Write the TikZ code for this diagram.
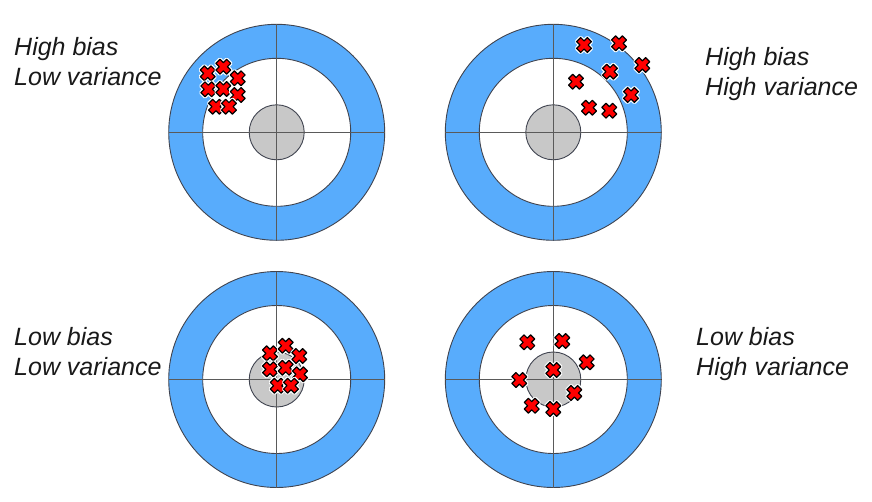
\documentclass[tikz,border=0pt]{standalone}
\usepackage{fontspec}
\setmainfont{Liberation Sans}
\usepackage{xcolor}

\definecolor{ringblue}{RGB}{88,172,252}
\definecolor{bullgray}{RGB}{200,200,200}
\definecolor{edgegray}{RGB}{64,68,80}
\definecolor{linegray}{RGB}{90,90,90}
\definecolor{hitred}{RGB}{255,0,0}

\tikzset{
    caption/.style={anchor=base west, inner sep=0pt, text=black!90,
        font=\fontsize{25}{30}\selectfont\itshape},
    ringedge/.style={draw=edgegray, line width=0.9pt},
    crosshair/.style={draw=linegray, line width=1.1pt},
    hitmark/.style={fill=hitred, draw=black, line width=1.2pt, line join=round,
        preaction={draw=white, line width=3.6pt, line join=round}}
}

% one red cross centred at #1
\newcommand{\hitat}[1]{%
    \draw[hitmark, shift={#1}, rotate=45]
        (-2.9,7.6) -- (2.9,7.6) -- (2.9,2.9) -- (7.6,2.9) -- (7.6,-2.9) -- (2.9,-2.9)
        -- (2.9,-7.6) -- (-2.9,-7.6) -- (-2.9,-2.9) -- (-7.6,-2.9) -- (-7.6,2.9)
        -- (-2.9,2.9) -- cycle;}

\begin{document}
\begin{tikzpicture}[x=1pt, y=-1pt]
    \useasboundingbox (0,0) rectangle (872,501);

    % Targets
    \foreach \cx/\cy in {276.7/132.3, 553.3/132.3, 276.7/379.5, 553.3/379.5} {
        \filldraw[fill=ringblue, ringedge] (\cx,\cy) circle (108pt);
        \filldraw[fill=white, ringedge] (\cx,\cy) circle (74pt);
        \filldraw[fill=bullgray, ringedge] (\cx,\cy) circle (27.5pt);
        \draw[crosshair] ({\cx-108},\cy) -- ({\cx+108},\cy);
        \draw[crosshair] (\cx,{\cy-108}) -- (\cx,{\cy+108});
    }

    % High bias, low variance
    \foreach \p in {(207.7,73.3), (223.3,66.7), (237.7,78.3), (208.3,89.3),
                    (223.3,89), (237.7,95), (216,106.7), (229,106.7)} {
        \hitat{\p}
    }

    % High bias, high variance
    \foreach \p in {(584,45), (619,43.3), (642.3,65), (610,71.7),
                    (576,81.7), (631,95), (589,107.7), (609.3,110.7)} {
        \hitat{\p}
    }

    % Low bias, low variance
    \foreach \p in {(270,353.3), (285.7,345.7), (299.3,356), (270,369.3),
                    (285.7,367.7), (300,374.3), (277.7,385.7), (291,385.7)} {
        \hitat{\p}
    }

    % Low bias, high variance
    \foreach \p in {(527.3,342.3), (562.3,341), (586.7,362.3), (553.3,370),
                    (519.3,380), (574.3,393), (531.7,405.7), (553.3,409)} {
        \hitat{\p}
    }

    % Captions
    \node[caption] (tlbias) at (14,55) {High bias};
    \node[caption] (tlvar) at (14,85) {Low variance};
    \node[caption] (trbias) at (705,65) {High bias};
    \node[caption] (trvar) at (705,95) {High variance};
    \node[caption] (blbias) at (14,345) {Low bias};
    \node[caption] (blvar) at (14,375) {Low variance};
    \node[caption] (brbias) at (696,345) {Low bias};
    \node[caption] (brvar) at (696,375) {High variance};
\end{tikzpicture}
\end{document}
